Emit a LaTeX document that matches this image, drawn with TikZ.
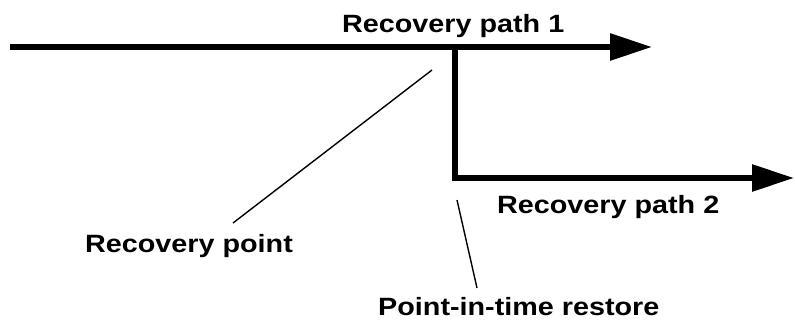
\documentclass[tikz,border=0pt]{standalone}
\usepackage{fontspec}
\usetikzlibrary{arrows.meta}
\newfontfamily\lblfont[FakeStretch=1.15]{Liberation Sans}
\begin{document}
\begin{tikzpicture}[x=1pt,y=-1pt,
  path/.style={line width=6pt,line join=miter,
    -{Triangle[length=42pt,width=26pt]}},
  leader/.style={line width=1.4pt},
  lbl/.style={inner sep=0pt,anchor=base west,
    font=\lblfont\bfseries\fontsize{25}{30}\selectfont}]
\useasboundingbox (0,0) rectangle (795,324);

% timeline and branch points
\coordinate (start) at (10,47);
\coordinate (fork)  at (455,47);
\coordinate (end1)  at (652,47);
\coordinate (bend)  at (455,178);
\coordinate (end2)  at (794,178);

% labels
\node[lbl] (rp1) at (342,32)  {Recovery path 1};
\node[lbl] (rp2) at (497,213) {Recovery path 2};
\node[lbl] (rpt) at (85,252)  {Recovery point};
\node[lbl] (pit) at (378,315) {Point-in-time restore};

% recovery paths
\draw[path] (start) -- (end1);
\draw[path] (fork) -- (bend) -- (end2);

% leader lines
\coordinate (rptA) at (432,70);
\coordinate (rptB) at (233,223);
\coordinate (pitA) at (457,200);
\coordinate (pitB) at (477,288);
\draw[leader] (rptA) -- (rptB);
\draw[leader] (pitA) -- (pitB);
\end{tikzpicture}
\end{document}
